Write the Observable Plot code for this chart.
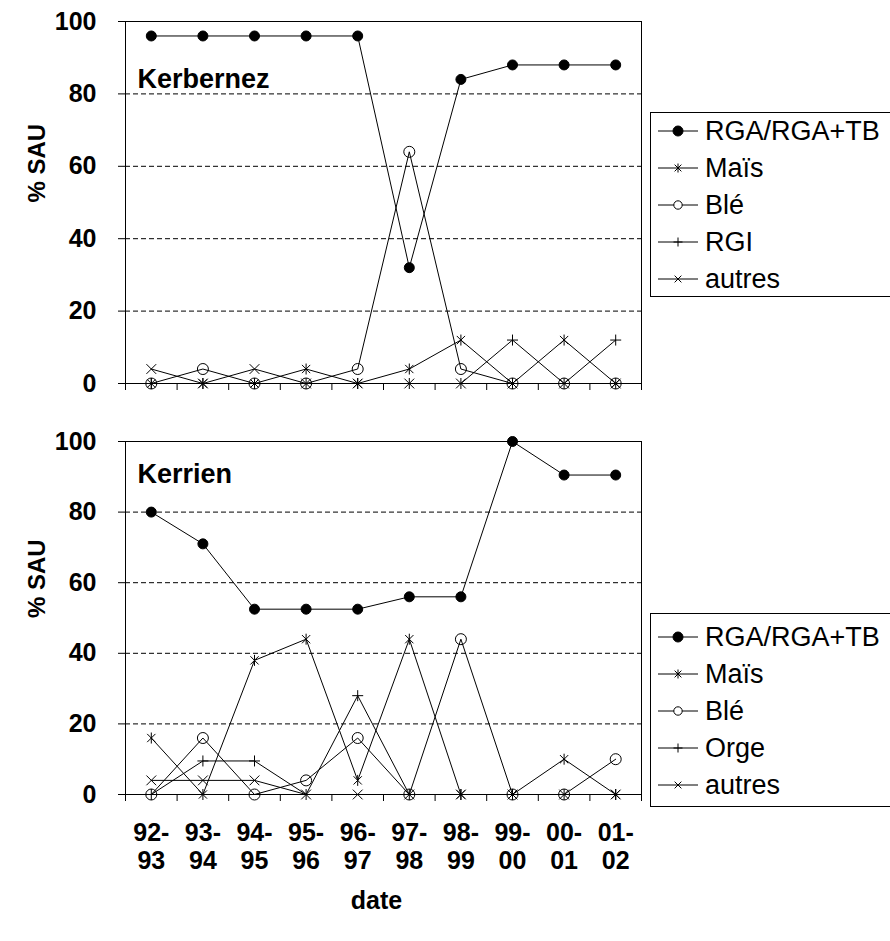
<!DOCTYPE html>
<html><head><meta charset="utf-8">
<script src="https://cdn.jsdelivr.net/npm/d3@7"></script>
<script src="https://cdn.jsdelivr.net/npm/@observablehq/plot@0.6"></script>
<style>
body{margin:0;background:#fff;font-family:"Liberation Sans",Arial,sans-serif;}
#wrap{position:relative;width:890px;height:941px;overflow:hidden;background:#fff;}
.plot{position:absolute;left:0;}
.legend{position:absolute;border:1px solid #000;background:#fff;box-sizing:border-box;width:260px;}
.row{position:absolute;left:0;height:36px;display:flex;align-items:center;font-size:27px;color:#000;white-space:nowrap;}
.row svg{margin-left:6px;margin-right:6px;}
</style></head><body><div id="wrap"></div>
<script>
// ---- data ----
const dates = ["92-93","93-94","94-95","95-96","96-97","97-98","98-99","99-00","00-01","01-02"];
const yTicks = [0,20,40,60,80,100];
const gridValues = [20,40,60,80];

// Kerbernez (% SAU)
const kbRGA    = [96,96,96,96,96,32,84,88,88,88];
const kbMais   = [0,0,0,4,0,4,12,0,12,0];
const kbBle    = [0,4,0,0,4,64,4,0,0,0];
const kbRGI    = [0,0,0,0,0,0,0,12,0,12];
const kbAutres = [4,0,4,0,0,0,0,0,0,0];

// Kerrien (% SAU)
const krRGA    = [80,71,52.5,52.5,52.5,56,56,100,90.5,90.5];
const krMais   = [16,0,38,44,4,44,0,0,10,0];
const krBle    = [0,16,0,4,16,0,44,0,0,10];
const krOrge   = [0,9.5,9.5,0,28,0,0,0,0,0];
const krAutres = [4,4,4,0,0,0,0,0,0,0];

// ---- symbols (Excel-like markers) ----
const starSym  = {draw(ctx, size){const r=Math.sqrt(size/Math.PI); const d=r*0.75;
  ctx.moveTo(0,-r);ctx.lineTo(0,r);ctx.moveTo(-d,-d);ctx.lineTo(d,d);ctx.moveTo(-d,d);ctx.lineTo(d,-d);}};
const timesSym = {draw(ctx, size){const r=Math.sqrt(size/Math.PI)*0.75;
  ctx.moveTo(-r,-r);ctx.lineTo(r,r);ctx.moveTo(-r,r);ctx.lineTo(r,-r);}};
const plusSym  = {draw(ctx, size){const r=Math.sqrt(size/Math.PI);
  ctx.moveTo(0,-r);ctx.lineTo(0,r);ctx.moveTo(-r,0);ctx.lineTo(r,0);}};

const styles = {
  RGA:   {symbol:"circle", fill:"#000", r:5},
  Mais:  {symbol:starSym,  fill:"none", r:5.5},
  Ble:   {symbol:"circle", fill:"none", r:5.5},
  Plus:  {symbol:plusSym,  fill:"none", r:5.5},
  Times: {symbol:timesSym, fill:"none", r:6.5}
};

const kerbernez = [
  {name:"RGA/RGA+TB", values:kbRGA, ...styles.RGA},
  {name:"Maïs", values:kbMais, ...styles.Mais},
  {name:"Blé", values:kbBle, ...styles.Ble},
  {name:"RGI", values:kbRGI, ...styles.Plus},
  {name:"autres", values:kbAutres, ...styles.Times}
];
const kerrien = [
  {name:"RGA/RGA+TB", values:krRGA, ...styles.RGA},
  {name:"Maïs", values:krMais, ...styles.Mais},
  {name:"Blé", values:krBle, ...styles.Ble},
  {name:"Orge", values:krOrge, ...styles.Plus},
  {name:"autres", values:krAutres, ...styles.Times}
];

const wrap = document.getElementById("wrap");
const boundaries = dates.map((d,i)=>i+0.5).concat([dates.length+0.5]);

function panel({title, series, top, height, marginBottom, showX, titleDy}) {
  const marks = [
    Plot.ruleY(gridValues, {stroke:"#000", strokeWidth:1, strokeDasharray:"5,3"}),
    Plot.frame({stroke:"#000", strokeWidth:1}),
    Plot.axisY({ticks:yTicks, tickSize:7, tickPadding:22, fontSize:25, fontWeight:"bold", label:null}),
    Plot.axisX({ticks:boundaries, tickSize:7, tickFormat:()=>"", label:null}),
    Plot.text(["% SAU"], {frameAnchor:"left", rotate:-90, dx:-88, fontSize:24, fontWeight:"bold", fill:"#000"}),
    Plot.text([title], {frameAnchor:"top-left", lineAnchor:"top", dx:12, dy:titleDy, fontSize:27, fontWeight:"bold", textAnchor:"start", fill:"#000"}),
    ...series.map(s => Plot.line(s.values, {x:(d,i)=>i+1, y:d=>d, stroke:"#000", strokeWidth:1})),
    ...series.map(s => Plot.dot(s.values, {x:(d,i)=>i+1, y:d=>d, symbol:s.symbol, r:s.r, fill:s.fill, stroke:"#000", strokeWidth:1}))
  ];
  if (showX) {
    marks.push(Plot.text(dates, {x:(d,i)=>i+1, frameAnchor:"bottom", lineAnchor:"top", dy:27, text:d=>d.replace("-","-\n"),
      lineHeight:1.12, fontSize:25, fontWeight:"bold", fill:"#000"}));
    marks.push(Plot.text(["date"], {frameAnchor:"bottom", lineAnchor:"middle", dx:-7, dy:106, fontSize:25, fontWeight:"bold", fill:"#000"}));
  }
  const chart = Plot.plot({
    width:645, height, marginLeft:125, marginRight:4, marginTop:21, marginBottom,
    x:{domain:[0.5, dates.length+0.5]},
    y:{domain:[0,100]},
    style:{fontFamily:"'Liberation Sans', Arial, sans-serif", color:"#000", background:"#fff", overflow:"visible"},
    marks
  });
  chart.classList.add("plot");
  chart.style.top = top + "px";
  wrap.appendChild(chart);
}

panel({title:"Kerbernez", series:kerbernez, top:0, height:400, marginBottom:17, showX:false, titleDy:47});
panel({title:"Kerrien", series:kerrien, top:420, height:521, marginBottom:147, showX:true, titleDy:22});

function legend(series, top, height, firstRow) {
  const box = document.createElement("div");
  box.className = "legend";
  box.style.left = "650px"; box.style.top = top + "px"; box.style.height = height + "px";
  series.forEach((s, k) => {
    const row = document.createElement("div");
    row.className = "row";
    row.style.top = (firstRow + k*37 - 18) + "px";
    const svg = d3.create("svg").attr("width", 42).attr("height", 20);
    svg.append("line").attr("x1",1).attr("x2",41).attr("y1",10).attr("y2",10).attr("stroke","#000");
    const sz = Math.PI * (s.symbol === "circle" ? (s.fill === "none" ? 4.2 : 5) : 4.5) ** 2;
    const sym = s.symbol === "circle" ? d3.symbolCircle : s.symbol;
    svg.append("path").attr("transform","translate(21,10)").attr("d", d3.symbol(sym, sz)())
      .attr("fill", s.fill === "none" ? "#fff" : s.fill).attr("stroke","#000");
    row.appendChild(svg.node());
    const span = document.createElement("span");
    span.textContent = s.name;
    row.appendChild(span);
    box.appendChild(row);
  });
  wrap.appendChild(box);
}
legend(kerbernez, 112, 185, 18);
legend(kerrien, 613, 194, 23);
</script>
</body></html>
